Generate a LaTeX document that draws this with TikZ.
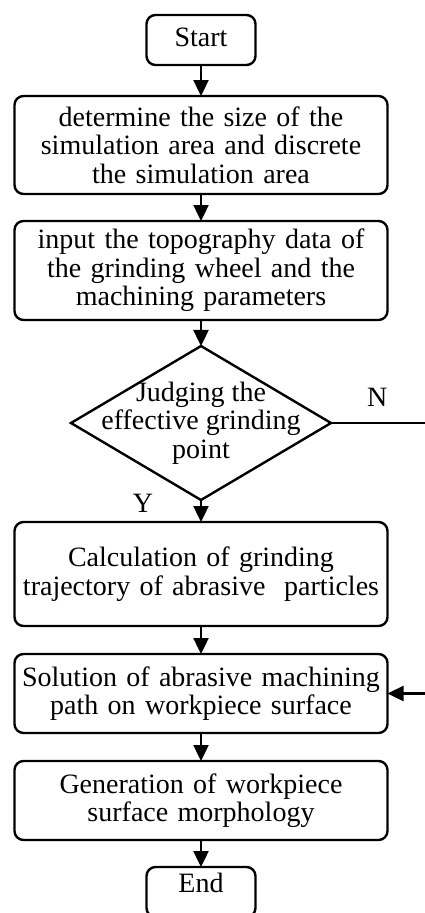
\documentclass[tikz,border=0pt]{standalone}
\usepackage{fontspec}
\setmainfont{Liberation Serif}
\usetikzlibrary{arrows.meta,positioning,shapes.geometric}

\begin{document}
\begin{tikzpicture}[x=1pt,y=-1pt,
				node distance=28pt,
				font=\fontsize{28}{28.5}\selectfont,
				term/.style={rounded corners=9pt,draw,line width=2.4pt,outer sep=0pt,
					minimum width=109pt,minimum height=50pt,inner sep=2pt},
				box/.style={rounded corners=9pt,draw,line width=2.4pt,outer sep=0pt,
					align=center,text width=365pt,inner sep=4pt},
				dec/.style={diamond,draw,line width=2.4pt,outer sep=0pt,align=center,aspect=1.7,
					inner sep=-20pt,minimum width=260pt,minimum height=154pt},
				arr/.style={-{Triangle[length=16pt,width=15pt]},line width=2.4pt}]
				\useasboundingbox (0,0) rectangle (425,913);
				\clip (0,0) rectangle (425,913);
				\node[term,text depth=5pt] (start) at (201,40) {Start};
				\node[box,minimum height=98pt,below=31pt of start] (area) {determine the size of the\\simulation area and discrete\\the simulation area};
				\node[box,minimum height=99pt,below=27pt of area] (input) {input the topography data of\\the grinding wheel and the\\machining parameters};
				\node[dec,below=26pt of input] (judge) {Judging the\\effective grinding\\point};
				\node[box,minimum height=104pt,below=22pt of judge] (traj) {Calculation of grinding\\trajectory of abrasive~~particles};
				\node[box,minimum height=79pt,below=of traj] (path) {Solution of abrasive machining\\path on workpiece surface};
				\node[box,minimum height=79pt,below=of path] (surf) {Generation of workpiece\\surface morphology};
				\node[term,text depth=18pt,below=27pt of surf] (end) {End};
				\node (yes) at ([xshift=-58pt,yshift=-3pt]judge.south) {Y};
				\coordinate (nout) at ([xshift=110pt]judge.east);
				\coordinate (back) at ([xshift=60pt]path.east);
				\draw[arr] (start) -- (area);
				\draw[arr] (area) -- (input);
				\draw[arr] (input) -- (judge);
				\draw[arr] (judge) -- (traj);
				\draw[arr] (traj) -- (path);
				\draw[arr] (path) -- (surf);
				\draw[arr] (surf) -- (end);
				\draw[line width=2.4pt] (judge.east) -- (nout) node[pos=0.42,above=12pt] (no) {N};
				\draw[arr] (back) -- (path.east);
			\end{tikzpicture}
\end{document}
